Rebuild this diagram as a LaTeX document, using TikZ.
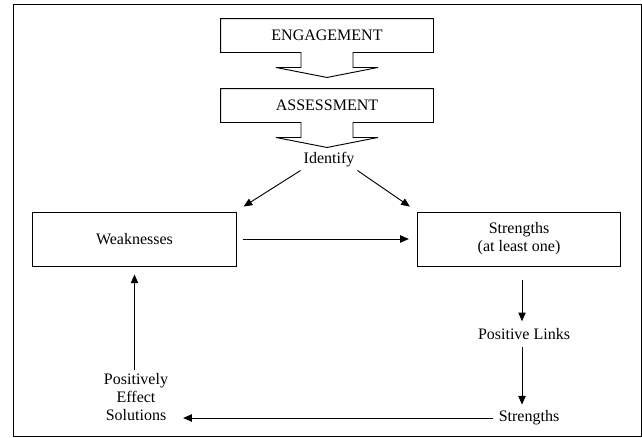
\documentclass[tikz,border=0pt]{standalone}
\usepackage{fontspec}
\setmainfont{Liberation Serif}
\usetikzlibrary{arrows.meta,positioning}
\newcommand{\callout}[1]{%
  \draw (#1.south west) -- (#1.north west) -- (#1.north east) -- (#1.south east)
    -- ([shift={(26,0)}]#1.south) -- ++(0,15) -- ++(25,0)
    -- ([shift={(0,25)}]#1.south) -- ([shift={(-51,15)}]#1.south)
    -- ++(25,0) -- ([shift={(-26,0)}]#1.south) -- cycle;}

\begin{document}
\begin{tikzpicture}[x=0.75pt,y=-0.75pt,line width=0.7pt,
    font=\fontsize{12}{13.5}\selectfont,
    >={Triangle[length=6.5pt,width=5.5pt]},
    callbox/.style={minimum width=159pt,minimum height=24.75pt,inner sep=0pt},
    box/.style={draw,minimum width=152.5pt,minimum height=40.5pt,align=center,inner sep=1pt},
    plain/.style={align=center,inner sep=2pt}]
         \useasboundingbox (0,0) rectangle (642,437);
         \draw (13,4) rectangle (641,436);
         \node[callbox] (EN) at (327,35.5) {ENGAGEMENT};
         \node[callbox] (AS) at (327,105.5) {ASSESSMENT};
         \callout{EN}
         \callout{AS}
         \node[plain] (ID) at (329,160) {Identify};
         \node[box] (WK) at (134.5,239) {Weaknesses};
         \node[box] (ST) at (519,239) {Strengths\\(at least one)};
         \node[plain] (PL) at (524,334) {Positive Links};
         \node[plain] (S2) at (529,418) {Strengths};
         \node[plain] (PE) at (136,397) {Positively\\Effect\\Solutions};
         \draw [->] (ID.south west) -- ([shift={(7,-5)}]WK.north east);
         \draw [->] (ID.south east) -- ([shift={(-7,-5)}]ST.north west);
         \draw [->] ([shift={(6,0)}]WK.east) -- ([shift={(-8,0)}]ST.west);
         \draw [->] (WK.south |- PE.north) -- ([shift={(0,8)}]WK.south);
         \draw [->] ([shift={(3,14)}]ST.south) -- ([shift={(-2,-4)}]PL.north);
         \draw [->] ([shift={(-2,4)}]PL.south) -- ([shift={(-7,-3)}]S2.north);
         \path (PE.east |- S2.west) ++(12,0) coordinate (PT);
         \draw [->] ([shift={(-3,0)}]S2.west) -- (PT);
 \end{tikzpicture}
\end{document}
